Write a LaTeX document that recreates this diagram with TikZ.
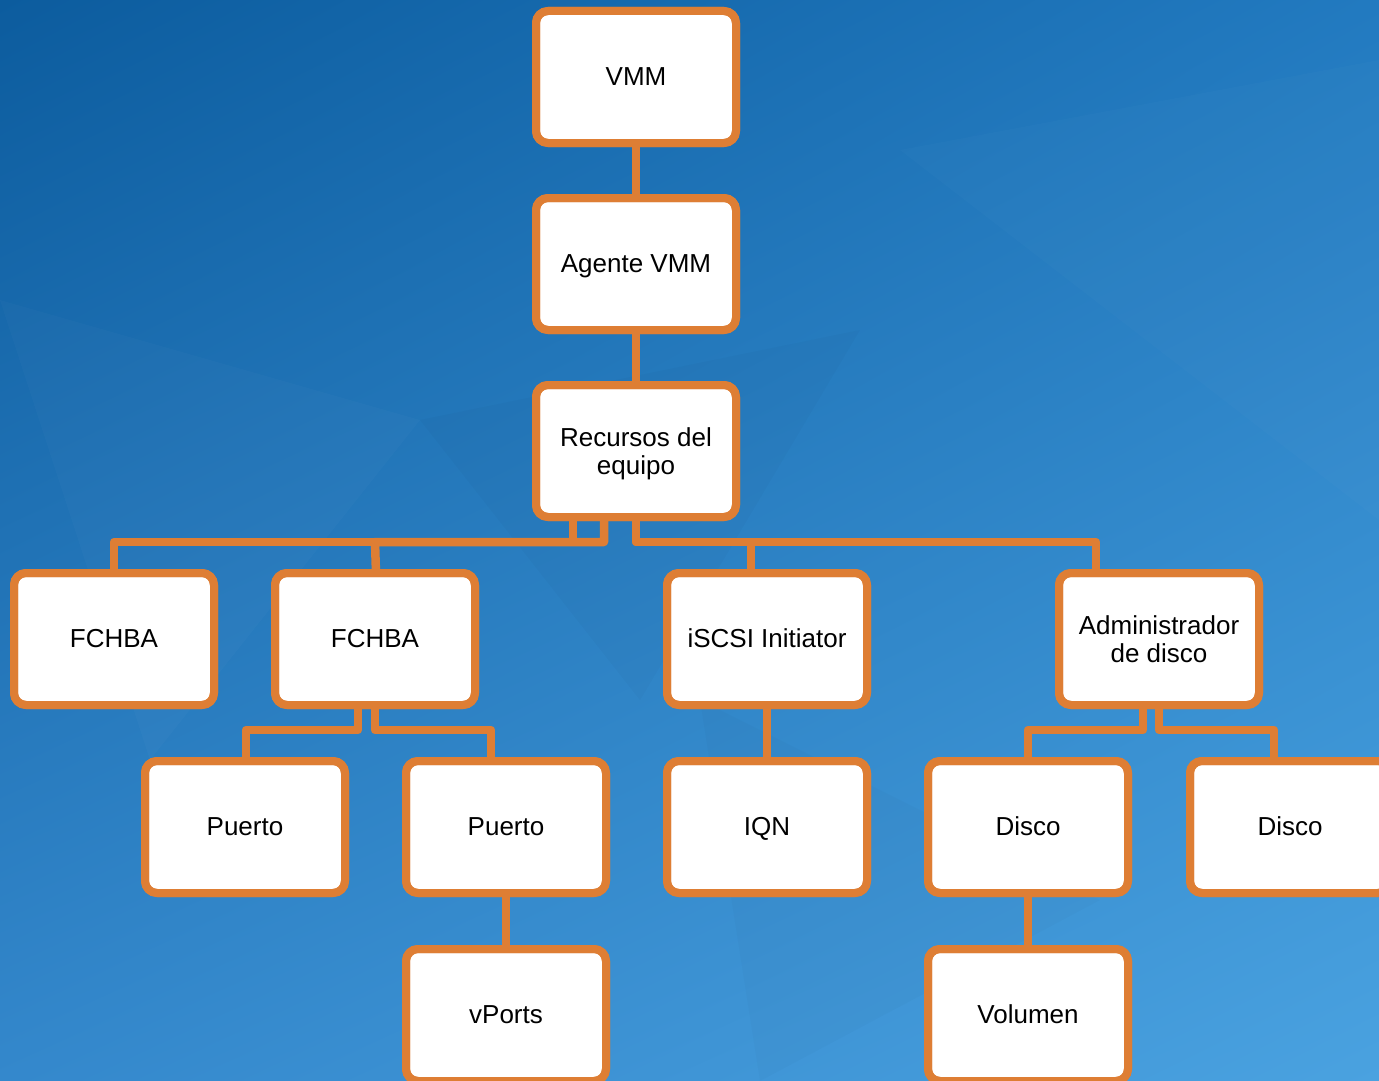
\documentclass[tikz,border=0pt]{standalone}
\usepackage{fontspec}
\setmainfont{Liberation Sans}
\usetikzlibrary{calc,shadings}
\definecolor{boxorange}{RGB}{222,126,52}
\definecolor{bgTL}{RGB}{12,92,158}
\definecolor{bgTR}{RGB}{34,122,192}
\definecolor{bgBL}{RGB}{52,136,204}
\definecolor{bgBR}{RGB}{74,162,224}
\tikzset{
  orgbox/.style={draw=boxorange, fill=white, line width=8pt, rounded corners=12pt,
    minimum width=200pt, minimum height=132pt, align=center, inner sep=0pt,
    outer sep=0pt, font=\fontsize{26}{28}\selectfont},
  onebox/.style={orgbox, text height=20pt, text depth=4pt},
  link/.style={draw=boxorange, line width=8.5pt, line join=round},
}
\begin{document}
\begin{tikzpicture}[x=1pt,y=-1pt]
  % background
  \useasboundingbox (0,0) rectangle (1379,1081);
  \clip (0,0) rectangle (1379,1081);
  \shade[upper left=bgTL, upper right=bgTR, lower left=bgBL, lower right=bgBR]
    (0,0) rectangle (1379,1081);
  % faint facets
  \fill[white, opacity=0.02] (0,300) -- (420,420) -- (150,760) -- cycle;
  \fill[black, opacity=0.02] (420,420) -- (860,330) -- (640,700) -- cycle;
  \fill[white, opacity=0.015] (900,150) -- (1379,60) -- (1379,520) -- cycle;
  \fill[black, opacity=0.015] (700,700) -- (1100,900) -- (760,1081) -- cycle;

  % boxes
  \node[onebox] (vmm)   at (636,77)  {VMM};
  \node[onebox] (agent) at (636,264) {Agente VMM};
  \node[orgbox, text depth=0pt] (rec) at (636,451) {Recursos del\\equipo};
  \node[onebox] (fc1)   at (114,639) {FCHBA};
  \node[onebox] (fc2)   at (375,639) {FCHBA};
  \node[onebox] (iscsi) at (767,639) {iSCSI Initiator};
  \node[orgbox] (adm)   at (1159,639) {Administrador\\de disco};
  \node[onebox] (pu1)   at (245,827) {Puerto};
  \node[onebox] (pu2)   at (506,827) {Puerto};
  \node[onebox] (iqn)   at (767,827) {IQN};
  \node[onebox] (dk1)   at (1028,827) {Disco};
  \node[onebox] (dk2)   at (1290,827) {Disco};
  \node[onebox] (vp)    at (506,1015) {vPorts};
  \node[onebox] (vol)   at (1028,1015) {Volumen};

  % connectors
  \path[link] (vmm.south) -- (agent.north);
  \path[link] (agent.south) -- (rec.north);

  \path[link] ([xshift=-63pt]rec.south) |- (114,542) -- (fc1.north);
  \path[link] ([xshift=-32pt]rec.south) |- (375,542) -- ($(fc2.north)+(1,0)$);
  \path[link] (rec.south) |- (751,542) -- ($(iscsi.north)+(-16,0)$);
  \path[link] (rec.south) |- (1096,542) -- ($(adm.north)+(-63,0)$);

  \path[link] ([xshift=-17pt]fc2.south) |- (246,730) -- ($(pu1.north)+(1,0)$);
  \path[link] (fc2.south) |- (491,730) -- ($(pu2.north)+(-15,0)$);
  \path[link] ([xshift=-16pt]adm.south) |- (1028,730) -- (dk1.north);
  \path[link] (adm.south) |- (1274,730) -- ($(dk2.north)+(-16,0)$);

  \path[link] (iscsi.south) -- (iqn.north);
  \path[link] (pu2.south) -- (vp.north);
  \path[link] (dk1.south) -- (vol.north);

  % box outlines drawn again over the connector ends
  \foreach \n in {vmm,agent,rec,fc1,fc2,iscsi,adm,pu1,pu2,iqn,dk1,dk2,vp,vol}{
    \draw[boxorange, line width=8pt, rounded corners=12pt]
      (\n.north west) rectangle (\n.south east);
  }
\end{tikzpicture}
\end{document}
